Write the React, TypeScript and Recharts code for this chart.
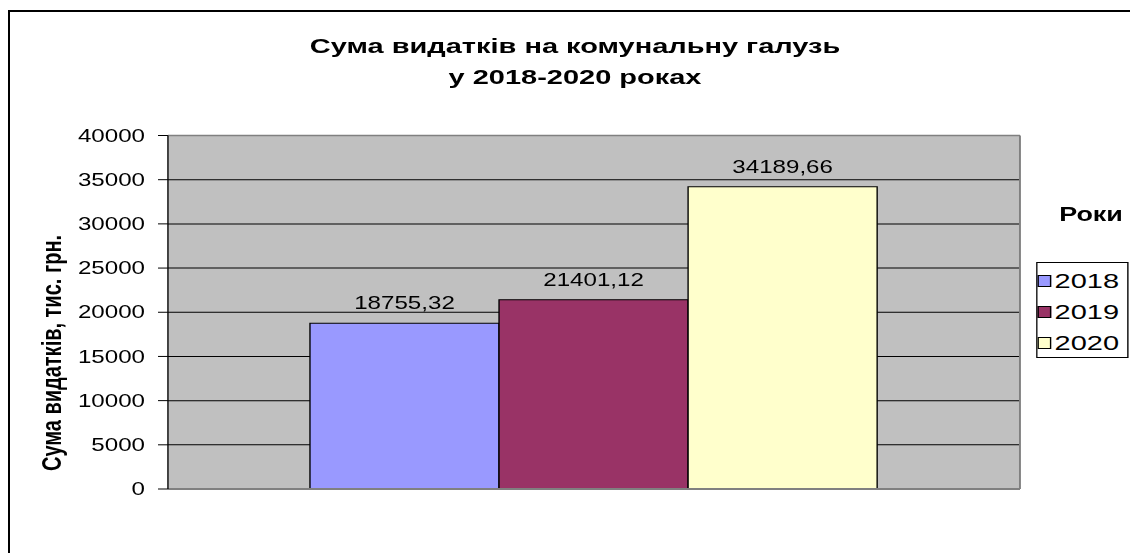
import { BarChart, Bar, XAxis, YAxis, CartesianGrid, LabelList, ReferenceLine } from 'recharts'

// the source picture is stretched sideways, so the chart is drawn narrow and scaled in x
const S = 1.38
const W = 813
const H = 545

const years = ['2018', '2019', '2020']
const values = [18755.32, 21401.12, 34189.66]
const colors = ['#9999FF', '#993366', '#FFFFCC']
const yTicks = [0, 5000, 10000, 15000, 20000, 25000, 30000, 35000, 40000]

const title1 = 'Сума видатків на комунальну галузь'
const title2 = 'у 2018-2020 роках'
const yLabel = 'Сума видатків, тис. грн.'
const legendTitle = 'Роки'

const row: Record<string, number | string> = { name: '' }
years.forEach((y, i) => {
  row['y' + y] = values[i]
})
const data = [row]

const FONT = '"Liberation Sans", Arial, sans-serif'

const fmt = (v: any) => Number(v).toFixed(2).replace('.', ',')

function YTitle() {
  return (
    <text
      x={31.2}
      y={345}
      transform="rotate(-90, 31.2, 345)"
      textAnchor="middle"
      dominantBaseline="central"
      fontSize={20}
      fontWeight="bold"
      fill="#000"
    >
      {yLabel}
    </text>
  )
}

export default function App() {
  return (
    <div style={{ position: 'fixed', left: 8, top: 8, width: 1122, height: H, overflow: 'hidden', fontFamily: FONT }}>
      <div
        style={{
          position: 'absolute',
          left: 0,
          top: 2,
          width: 1122,
          height: H - 2,
          borderTop: '2px solid #000',
          borderLeft: '2px solid #000',
          boxSizing: 'border-box',
        }}
      />
      <div
        style={{
          position: 'absolute',
          left: 0,
          top: 0,
          width: W,
          height: H,
          transform: `scaleX(${S})`,
          transformOrigin: '0 0',
        }}
      >
        <BarChart
          width={W}
          height={H}
          data={data}
          margin={{ top: 127.5, right: 79.7, bottom: 63, left: 0 }}
          barGap={0}
          barCategoryGap="16.67%"
        >
          <text x={410.9} y={45} textAnchor="middle" fontSize={21} fontWeight="bold" fill="#000">
            {title1}
          </text>
          <text x={410.9} y={76} textAnchor="middle" fontSize={21} fontWeight="bold" fill="#000">
            {title2}
          </text>
          <CartesianGrid vertical={false} stroke="#000" fill="#C0C0C0" fillOpacity={1} />
          <CartesianGrid
            horizontal={false}
            stroke="#808080"
            strokeWidth={1.4}
            verticalCoordinatesGenerator={({ offset }: any) => [offset.left + offset.width]}
          />
          <ReferenceLine y={40000} stroke="#808080" strokeWidth={1.5} />
          <XAxis dataKey="name" tick={false} tickLine={false} height={1} axisLine={{ stroke: '#808080', strokeWidth: 2 }} />
          <YAxis
            width={115.9}
            domain={[0, 40000]}
            ticks={yTicks}
            interval={0}
            tickSize={7.2}
            tickMargin={9.4}
            axisLine={{ stroke: '#000' }}
            tickLine={{ stroke: '#000' }}
            tick={{ fill: '#000', fontSize: 17.5 }}
            label={<YTitle />}
          />
          {years.map((y, i) => (
            <Bar key={y} dataKey={'y' + y} name={y} fill={colors[i]} stroke="#000" strokeWidth={1} isAnimationActive={false}>
              <LabelList dataKey={'y' + y} position="top" offset={14} formatter={fmt} fill="#000" fontSize={17.5} />
            </Bar>
          ))}
        </BarChart>
        <div
          style={{
            position: 'absolute',
            left: 754.8,
            top: 194,
            width: 60,
            textAlign: 'center',
            fontSize: 19.5,
            fontWeight: 'bold',
            lineHeight: '24px',
          }}
        >
          {legendTitle}
        </div>
        <div
          style={{
            position: 'absolute',
            left: 745,
            top: 254,
            width: 67,
            height: 96,
            border: '1px solid #000',
            boxSizing: 'border-box',
            background: '#fff',
            paddingTop: 2,
          }}
        >
          {years.map((y, i) => (
            <div key={y} style={{ display: 'flex', alignItems: 'center', height: 31.3 }}>
              <span
                style={{
                  display: 'inline-block',
                  boxSizing: 'border-box',
                  width: 9.4,
                  height: 12,
                  marginLeft: 0.4,
                  marginRight: 2.6,
                  background: colors[i],
                  border: '1px solid #000',
                }}
              />
              <span style={{ fontSize: 21, lineHeight: '24px', whiteSpace: 'nowrap' }}>{y}</span>
            </div>
          ))}
        </div>
      </div>
    </div>
  )
}
